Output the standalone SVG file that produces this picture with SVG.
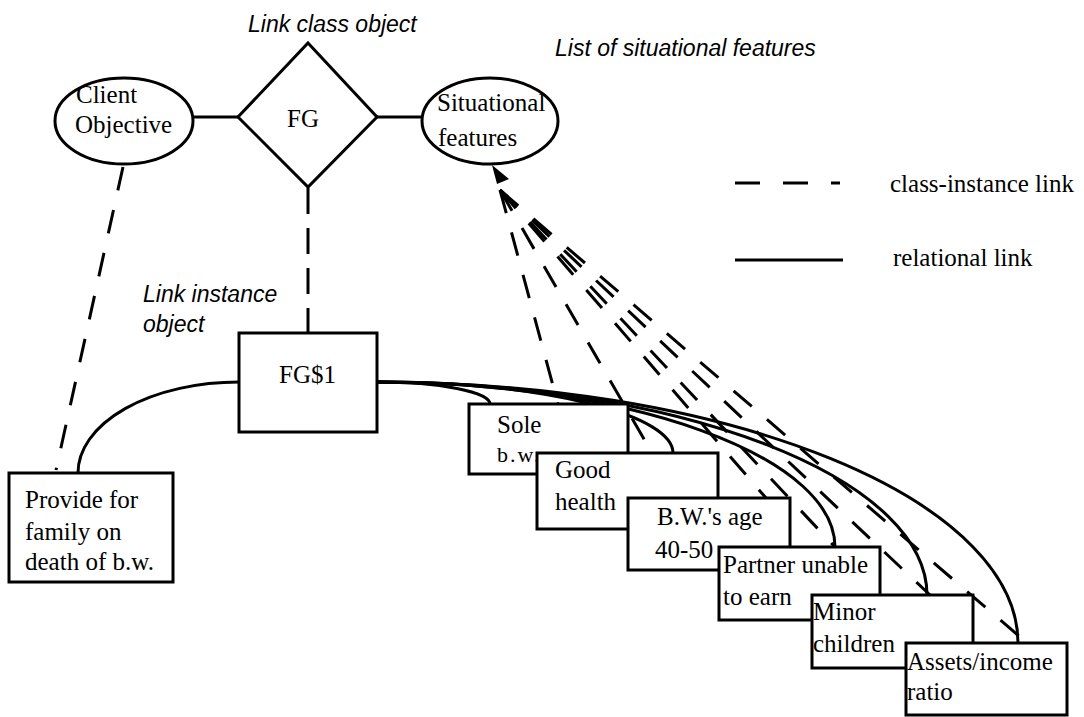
<svg xmlns="http://www.w3.org/2000/svg" width="1084" height="717" viewBox="0 0 1084 717">
<style>
.shape{fill:#fff;stroke:#000;stroke-width:3}
.rel{fill:none;stroke:#000;stroke-width:3}
.ci{fill:none;stroke:#000;stroke-width:3;stroke-dasharray:24 20}
.t{font-family:"Liberation Serif","Times New Roman",serif;font-size:25px;fill:#000}
.it{font-family:"Liberation Sans",Arial,sans-serif;font-style:italic;font-size:23px;fill:#000}
</style>
<rect width="1084" height="717" fill="#fff"/>
<text class="it" x="248" y="32">Link class object</text>
<text class="it" x="555" y="56">List of situational features</text>
<text class="it" x="143" y="302">Link instance</text>
<text class="it" x="143" y="332">object</text>
<g id="connectors">
  <line class="rel" x1="193" y1="117" x2="238" y2="117"/>
  <line class="rel" x1="377" y1="117" x2="422" y2="117"/>
  <path class="ci" d="M123,167 L56,470"/>
  <path class="ci" style="stroke-dasharray:26 14" d="M308,188 L308,333"/>
  <path class="rel" d="M239,382 A161,91 0 0 0 78,473"/>
  <path class="rel" d="M377,382 A113,22 0 0 1 490,404"/>
  <path class="rel" d="M377,382 A296,71 0 0 1 673,453"/>
  <path class="rel" d="M377,382 A458,165 0 0 1 835,547"/>
  <path class="rel" d="M377,382 A550,213 0 0 1 927,595"/>
  <path class="rel" d="M377,382 A641,261 0 0 1 1018,643"/>
  <path class="ci" d="M500,190 L558,404"/>
  <path class="ci" d="M500,190 L652,453"/>
  <path class="ci" d="M500,190 L766,498"/>
  <path class="ci" d="M500,190 L835,547"/>
  <path class="ci" d="M500,190 L930,595"/>
  <path class="ci" d="M500,190 L1027,643"/>
  <polygon points="492,165 509,179 497,184" fill="#000"/>
</g>
<g id="client-objective">
  <ellipse class="shape" cx="124" cy="121" rx="69" ry="43"/>
  <text class="t" x="76" y="103">Client</text>
  <text class="t" x="75" y="133">Objective</text>
</g>
<g id="fg">
  <polygon class="shape" points="308,43 377,117 308,187 238,117"/>
  <text class="t" x="287" y="127">FG</text>
</g>
<g id="situational-features">
  <ellipse class="shape" cx="490" cy="121" rx="68" ry="43"/>
  <text class="t" x="437" y="111">Situational</text>
  <text class="t" x="438" y="146">features</text>
</g>
<g id="fg1">
  <rect class="shape" x="239" y="333" width="138" height="99"/>
  <text class="t" x="279" y="383">FG$1</text>
</g>
<g id="provide">
  <rect class="shape" x="9" y="473" width="164" height="109"/>
  <text class="t" x="25" y="508">Provide for</text>
  <text class="t" x="25" y="540">family on</text>
  <text class="t" x="25" y="570">death of b.w.</text>
</g>
<g id="sole">
  <rect class="shape" x="469" y="404" width="159" height="70"/>
  <text class="t" x="497" y="433">Sole</text>
  <text class="t" x="497" y="462" style="font-size:22px;letter-spacing:2px">b.w.</text>
</g>
<g id="good-health">
  <rect class="shape" x="537" y="453" width="181" height="76"/>
  <text class="t" x="555" y="478">Good</text>
  <text class="t" x="555" y="510">health</text>
</g>
<g id="bw-age">
  <rect class="shape" x="628" y="498" width="162" height="72"/>
  <text class="t" x="657" y="525">B.W.'s age</text>
  <text class="t" x="655" y="558">40-50</text>
</g>
<g id="partner">
  <rect class="shape" x="719" y="547" width="161" height="73"/>
  <text class="t" x="723" y="573">Partner unable</text>
  <text class="t" x="723" y="605">to earn</text>
</g>
<g id="minor">
  <rect class="shape" x="812" y="595" width="161" height="73"/>
  <text class="t" x="813" y="620">Minor</text>
  <text class="t" x="813" y="652">children</text>
</g>
<g id="assets">
  <rect class="shape" x="906" y="643" width="161" height="72"/>
  <text class="t" x="907" y="670">Assets/income</text>
  <text class="t" x="907" y="700">ratio</text>
</g>
<g id="legend">
  <line class="ci" style="stroke-dasharray:25 23" x1="735" y1="183" x2="840" y2="183"/>
  <text class="t" x="890" y="192">class-instance link</text>
  <line class="rel" x1="735" y1="260" x2="843" y2="260"/>
  <text class="t" x="893" y="266">relational link</text>
</g>
</svg>
